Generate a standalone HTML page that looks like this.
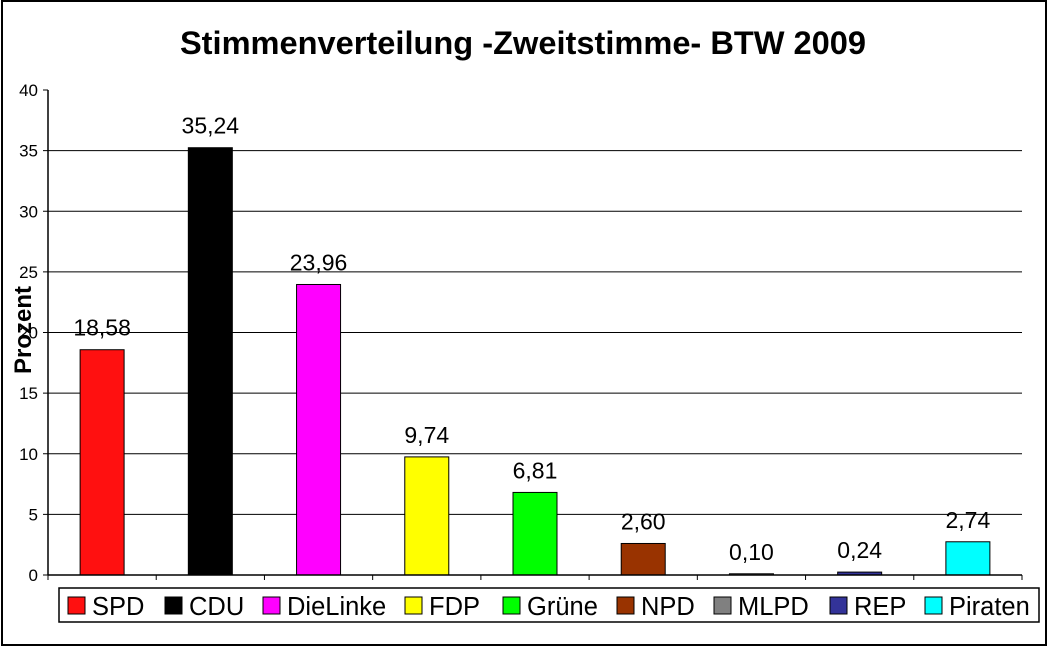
<!DOCTYPE html>
<html><head><meta charset="utf-8"><style>
body{margin:0;background:#fff;}
svg{display:block;font-family:"Liberation Sans",Arial,sans-serif;}
</style></head><body>
<svg id="chart" width="1049" height="646">
<rect x="2" y="1" width="1044" height="644" fill="#fff" stroke="#000" stroke-width="2"/>
<text x="523" y="54" text-anchor="middle" font-size="32.6" font-weight="bold">Stimmenverteilung -Zweitstimme- BTW 2009</text>
<text transform="translate(31,330) rotate(-90)" text-anchor="middle" font-size="24" font-weight="bold">Prozent</text>
<g id="grid"></g><g id="bars"></g><g id="axes"></g><g id="legend"></g>
</svg>
<script>
const categories=["SPD","CDU","DieLinke","FDP","Grüne","NPD","MLPD","REP","Piraten"];
const values=[18.58,35.24,23.96,9.74,6.81,2.60,0.10,0.24,2.74];
const labels=["18,58","35,24","23,96","9,74","6,81","2,60","0,10","0,24","2,74"];
const colors=["#ff1010","#000000","#ff00ff","#ffff00","#00ff00","#993300","#808080","#333399","#00ffff"];
const yTicks=[0,5,10,15,20,25,30,35,40];
const legendX=[68,165,263,405,503,617,714,830,925];
const NS="http://www.w3.org/2000/svg";
const x0=48,x1=1022,yB=575,yT=90,yMax=40;
const y=v=>yB-(yB-yT)*v/yMax;
const cw=(x1-x0)/categories.length;
const xc=i=>x0+cw*(i+0.5);
function mk(tag,attrs,parent,txt){const e=document.createElementNS(NS,tag);for(const k in attrs)e.setAttribute(k,attrs[k]);if(txt!==undefined)e.textContent=txt;document.getElementById(parent).appendChild(e);return e;}
yTicks.forEach(t=>{
  if(t>0&&t<yMax){const g=mk('line',{x1:x0,x2:x1,y1:y(t),y2:y(t),stroke:'#000','stroke-width':1},'grid');
  
  }
  const tk=mk('line',{x1:x0-5,x2:x0,y1:y(t),y2:y(t),stroke:'#000'},'axes');
  
  
  const tl=mk('text',{x:x0-10,y:y(t)+6,'text-anchor':'end','font-size':17},'axes',String(t));
  
  
});
const ya=mk('line',{x1:x0,x2:x0,y1:yT,y2:yB,stroke:'#000','stroke-width':1.5},'axes');


const xa=mk('line',{x1:x0,x2:x1,y1:yB,y2:yB,stroke:'#000','stroke-width':1.5},'axes');


for(let i=0;i<=categories.length;i++){const t=mk('line',{x1:x0+cw*i,x2:x0+cw*i,y1:yB,y2:yB+5,stroke:'#000'},'axes');

}
categories.forEach((c,i)=>{
  const bw=44,top=y(values[i]);
  const b=mk('rect',{x:xc(i)-bw/2,y:top,width:bw,height:Math.max(yB-top,1),fill:colors[i],stroke:'#000','stroke-width':1},'bars');
  
  
  const l=mk('text',{x:xc(i),y:top-14,'text-anchor':'middle','font-size':23},'bars',labels[i]);
  
  
});
const lb=mk('rect',{x:59,y:588,width:980,height:34,fill:'#fff',stroke:'#000','stroke-width':1.5},'legend');


categories.forEach((c,i)=>{
  const s=mk('rect',{x:legendX[i],y:597,width:17,height:17,fill:colors[i],stroke:'#000'},'legend');
  
  
  const t=mk('text',{x:legendX[i]+24,y:615,'font-size':25.5},'legend',c);
  
  
});
</script>
</body></html>
